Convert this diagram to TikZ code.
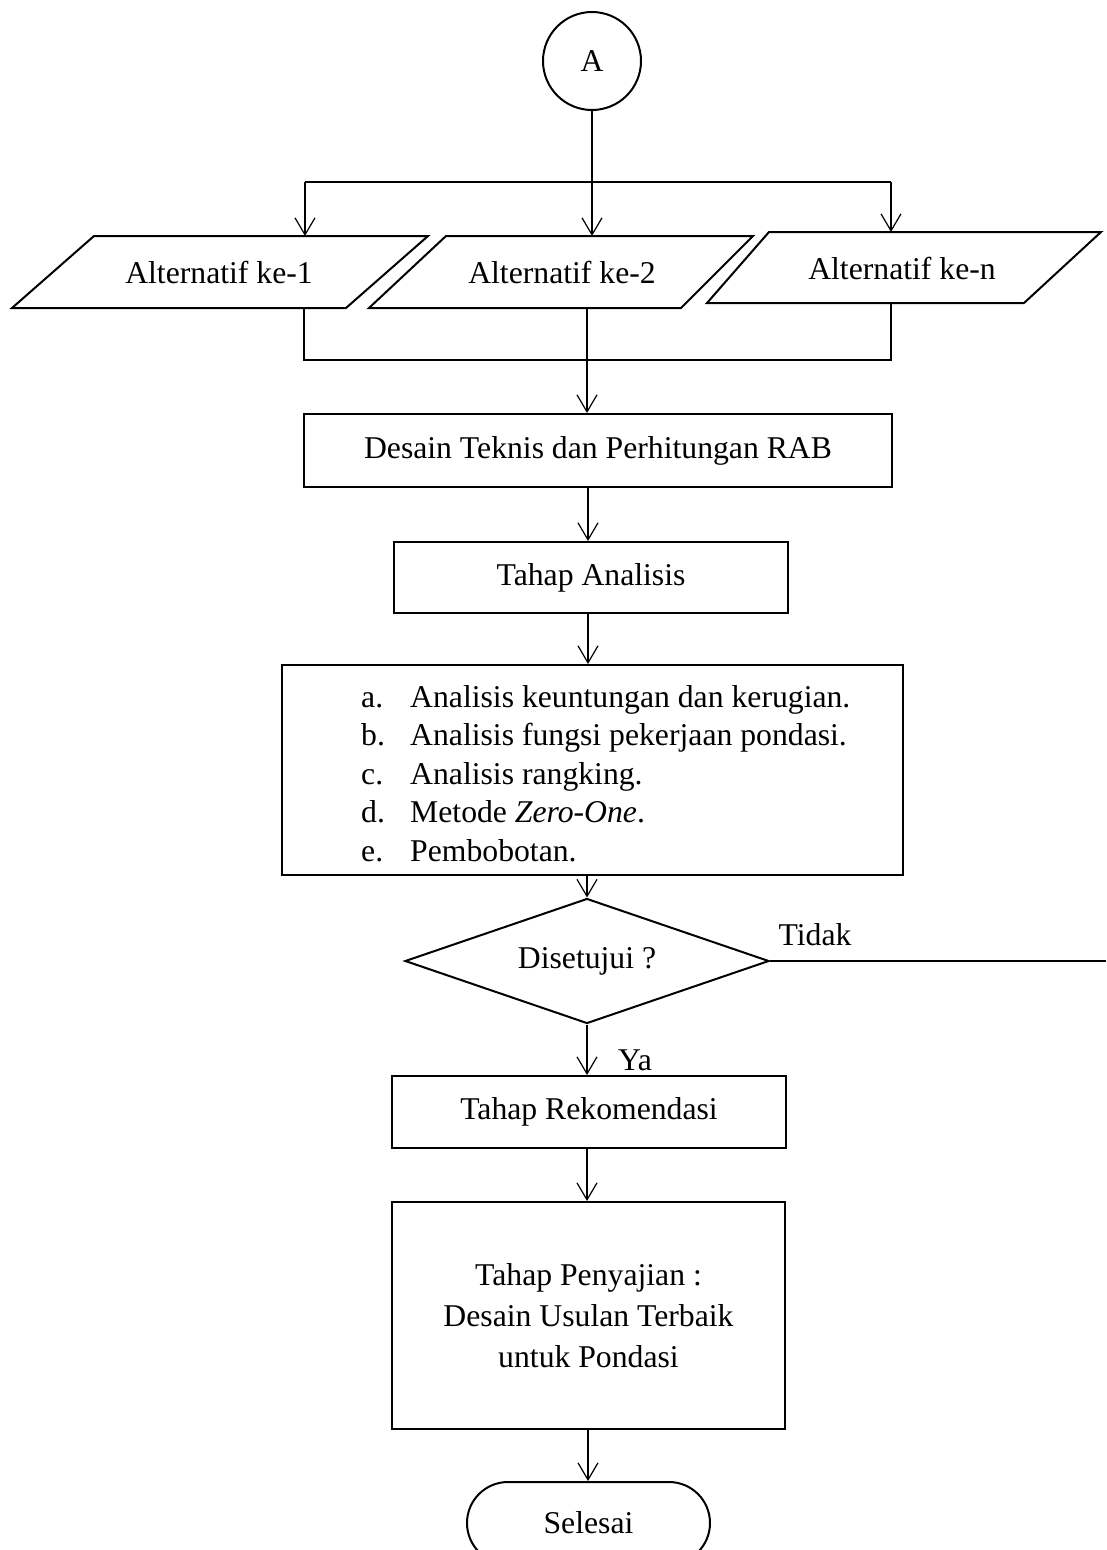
\documentclass[tikz,border=0pt]{standalone}
\usepackage{fontspec}
\setmainfont{Liberation Serif}
\usetikzlibrary{arrows.meta,shapes.geometric}
\begin{document}
\begin{tikzpicture}[x=1pt,y=-1pt,
  every node/.style={font=\fontsize{31.7}{38.5}\selectfont},
  box/.style={draw,line width=2pt,inner sep=0pt},
  txt/.style={inner sep=0pt},
  conn/.style={line width=1.2pt},
  arr/.style={conn,-{Straight Barb[length=17pt,width=20pt,line width=1.2pt]}}]
\useasboundingbox (0,0) rectangle (1106,1550);

% start connector
\node[box,circle,minimum size=98pt] (A) at (592,61) {A};

% parallelograms
\draw[line width=2pt,line join=miter] (94,236) -- (428,236) -- (346,308) -- (12,308) -- cycle;
\draw[line width=2pt,line join=miter] (446,236) -- (753,236) -- (681,308) -- (369,308) -- cycle;
\draw[line width=2pt,line join=miter] (769,232) -- (1101,232) -- (1024,303) -- (707,303) -- cycle;
\node[txt] (p1) at (219,272) {Alternatif ke-1};
\node[txt] (p2) at (562,272) {Alternatif ke-2};
\node[txt] (p3) at (902,268) {Alternatif ke-n};

\coordinate (split) at (592,182);
\coordinate (s1) at (305,182);
\coordinate (s3) at (891,182);
\coordinate (p1t) at (305,236);
\coordinate (p2t) at (592,236);
\coordinate (p3t) at (891,232);
\coordinate (p1b) at (304,308);
\coordinate (p2b) at (587,308);
\coordinate (p3b) at (891,303);
\coordinate (j1) at (304,360);
\coordinate (j3) at (891,360);
\coordinate (ax) at (588,0);

% process boxes
\node[box,minimum width=588pt,minimum height=73pt] (desain) at (598,450.5) {Desain Teknis dan Perhitungan RAB};
\node[box,minimum width=394pt,minimum height=71pt] (analisis) at (591,577.5) {Tahap Analisis};
\node[box,minimum width=621pt,minimum height=210pt] (list) at (592.5,770) {};
\node[txt,anchor=base west] (la) at (361,707) {a.};
\node[txt,anchor=base west] (ta) at (410,707) {Analisis keuntungan dan kerugian.};
\node[txt,anchor=base west] (lb) at (361,745.5) {b.};
\node[txt,anchor=base west] (tb) at (410,745.5) {Analisis fungsi pekerjaan pondasi.};
\node[txt,anchor=base west] (lc) at (361,784) {c.};
\node[txt,anchor=base west] (tc) at (410,784) {Analisis rangking.};
\node[txt,anchor=base west] (ld) at (361,822.5) {d.};
\node[txt,anchor=base west] (td) at (410,822.5) {Metode \textit{Zero-One}.};
\node[txt,anchor=base west] (le) at (361,861) {e.};
\node[txt,anchor=base west] (te) at (410,861) {Pembobotan.};

\node[box,diamond,aspect=2.9,minimum width=364pt,minimum height=125pt] (dia) at (587,961) {Disetujui ?};
\node[txt] (tidak) at (815,935) {Tidak};
\node[txt] (ya) at (635,1060) {Ya};
\coordinate (tidakend) at (1106,961);

\node[box,minimum width=394pt,minimum height=72pt] (rekom) at (589,1112) {Tahap Rekomendasi};
\node[box,minimum width=393pt,minimum height=227pt,align=center,
      font=\fontsize{31.7}{41}\selectfont] (saji) at (588.5,1315.5) {Tahap Penyajian :\\Desain Usulan Terbaik\\untuk Pondasi};
\node[box,minimum width=243pt,minimum height=82pt,rounded corners=41pt] (selesai) at (588.5,1523) {Selesai};

% connectors
\draw[conn] (A.south) -- (split);
\draw[conn] (s1) -- (s3);
\draw[arr] (s1) -- (p1t);
\draw[arr] (split) -- (p2t);
\draw[arr] (s3) -- (p3t);
\draw[conn] (p1b) -- (j1) -- (j3) -- (p3b);
\draw[arr] (p2b) -- (desain.north -| p2b);
\draw[arr] (desain.south -| ax) -- (analisis.north -| ax);
\draw[arr] (analisis.south -| ax) -- (list.north -| ax);
\draw[arr] (list.south -| dia.north) -- (dia.north);
\draw[arr] (dia.south) -- (rekom.north -| dia.south);
\draw[conn] (dia.east) -- (tidakend);
\draw[arr] (rekom.south -| dia.south) -- (saji.north -| dia.south);
\draw[arr] (saji.south -| ax) -- (selesai.north -| ax);
\end{tikzpicture}
\end{document}
